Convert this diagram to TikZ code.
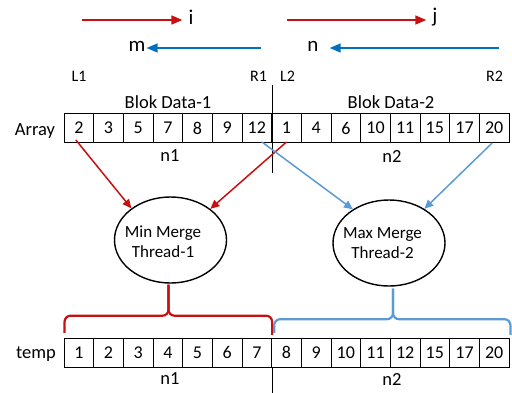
\documentclass[tikz,border=0pt]{standalone}
\usepackage{fontspec}
\setmainfont{Carlito}
\usetikzlibrary{shapes.geometric,arrows.meta}
\definecolor{myred}{RGB}{200,16,16}
\definecolor{topblue}{RGB}{0,112,192}
\definecolor{lightblue}{RGB}{91,155,213}
\tikzset{
  cell/.style={draw=black,line width=0.9pt,minimum width=29.667pt,minimum height=29pt,inner sep=0pt,font=\fontsize{18}{20}\selectfont},
  lbl/.style={inner sep=0pt,font=\fontsize{18.5}{20}\selectfont},
  small/.style={inner sep=0pt,font=\fontsize{16}{18}\selectfont},
  letter/.style={inner sep=0pt,font=\fontsize{21}{23}\selectfont},
  thread/.style={draw=black,line width=1.4pt,shape=ellipse,minimum width=112pt,minimum height=86pt,inner sep=0pt},
  threadtxt/.style={inner sep=0pt,align=center,font=\fontsize{17}{20}\selectfont},
  toparr/.style={line width=1.5pt,-{Triangle[length=11pt,width=9pt]}},
  midarr/.style={line width=1.5pt,-{Triangle[length=9pt,width=8pt]}},
  brace/.style={line width=2.2pt,rounded corners=6pt},
  divider/.style={draw=black,line width=0.9pt}
}
\begin{document}
\begin{tikzpicture}[x=1pt,y=-1pt]
\useasboundingbox (0,0) rectangle (512,392);
% top arrows
\node[letter] (i) at (191,17) {i};
\node[letter] (j) at (435,17) {j};
\node[letter] (m) at (137,46) {m};
\node[letter] (n) at (313,46) {n};
\coordinate (is) at (82,20);
\coordinate (js) at (287,20);
\coordinate (ms) at (261,48);
\coordinate (ns) at (499,48);
\draw[toparr,myred] (is) -- ([xshift=-6pt]is -| i.west);
\draw[toparr,myred] (js) -- ([xshift=-6pt]js -| j.west);
\draw[toparr,topblue] (ms) -- ([xshift=1pt]ms -| m.east);
\draw[toparr,topblue] (ns) -- ([xshift=11pt]ns -| n.east);
% L/R labels
\node[small] (L1) at (79,76.5) {L1};
\node[small] (R1) at (258.5,76.5) {R1};
\node[small] (L2) at (287.5,76.5) {L2};
\node[small] (R2) at (494.5,76.5) {R2};
% block labels
\node[lbl] (b1) at (168,102) {Blok Data-1};
\node[lbl] (b2) at (391,102) {Blok Data-2};
% array
\node[lbl,anchor=base] (arr) at (35,135) {Array};
\foreach \v [count=\k] in {2,3,5,7,8,9,12,1,4,6,10,11,15,17,20}
  \node[cell] (a\k) at ({64+(\k-0.5)*29.667},128) {\v};
\node[lbl] (an1) at (170,156) {n1};
\node[lbl] (an2) at (392,156) {n2};
\draw[divider] ([yshift=28pt]a7.north east) -- ([yshift=-30pt]a7.south east);
% threads
\node[thread] (e1) at (170.5,240) {};
\node[threadtxt] (t1) at (163,242) {Min Merge\\Thread-1};
\node[thread] (e2) at (389,243) {};
\node[threadtxt] (t2) at (382.5,243) {Max Merge\\Thread-2};
\draw[midarr,myred] ([xshift=-3pt,yshift=3pt]a1.south) -- (e1.141);
\draw[midarr,myred] ([yshift=1pt]a8.south) -- (e1.38);
\draw[midarr,lightblue] ([xshift=5pt,yshift=1pt]a7.south) -- (e2.137);
\draw[midarr,lightblue] ([xshift=-2pt]a15.south) -- (e2.44);
% temp
\node[lbl,anchor=base] (tmp) at (36,358) {temp};
\foreach \v [count=\k] in {1,2,3,4,5,6,7,8,9,10,11,12,15,17,20}
  \node[cell] (c\k) at ({64+(\k-0.5)*29.667},352.8) {\v};
\node[lbl] (cn1) at (170,379) {n1};
\node[lbl] (cn2) at (392,379) {n2};
\draw[divider] (c7.south east) -- ++(0,26);
% braces
\coordinate (e1s) at ([xshift=-2pt,yshift=-1pt]e1.south);
\coordinate (e2s) at ([xshift=4pt,yshift=-2pt]e2.south);
\path (e1s) ++(0,31) coordinate (rk);
\path (e2s) ++(0,30.5) coordinate (bk);
\draw[brace,myred] ([xshift=1pt,yshift=5pt]c1.north west) |- (rk) -- (e1s);
\draw[brace,myred] (e1s) -- (rk) -| ([yshift=3pt]c7.north east);
\draw[brace,lightblue] ([xshift=3pt,yshift=5pt]c8.north west) |- (bk) -- (e2s);
\draw[brace,lightblue] (e2s) -- (bk) -| ([xshift=1pt,yshift=3pt]c15.north east);
\end{tikzpicture}
\end{document}
